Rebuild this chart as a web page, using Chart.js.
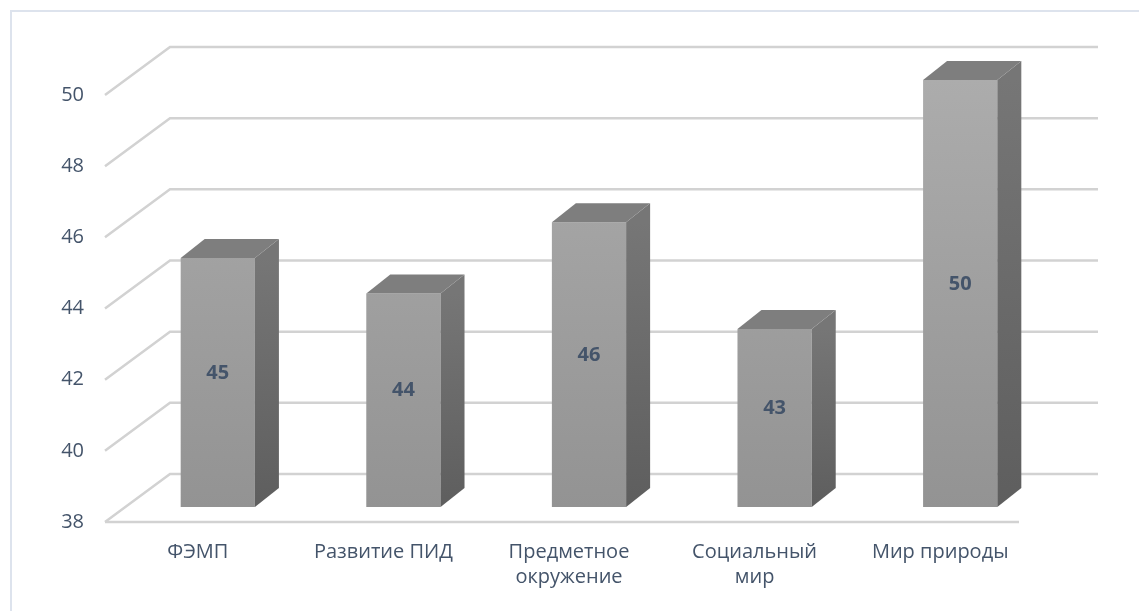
<!DOCTYPE html>
<html>
<head>
<meta charset="utf-8">
<script src="https://cdn.jsdelivr.net/npm/chart.js@4.4.1/dist/chart.umd.min.js"></script>
<style>
  html, body { margin: 0; padding: 0; background: #fff; }
  #wrap { position: relative; width: 1139px; height: 611px; overflow: hidden; }
  #frame { position: absolute; left: 10px; top: 10px; right: -10px; bottom: -10px; border: 2px solid #dde3ed; }
  canvas { position: absolute; left: 0; top: 0; }
</style>
</head>
<body>
<div id="wrap">
  <div id="frame"></div>
  <canvas id="barChart" width="1139" height="611"></canvas>
</div>
<script>
const categories = [['ФЭМП'], ['Развитие ПИД'], ['Предметное', 'окружение'], ['Социальный', 'мир'], ['Мир природы']];
const scores = [45, 44, 46, 43, 50];
const yTicks = [38, 40, 42, 44, 46, 48, 50];

const textColor = '#44546a';
// fake 3d: back wall offset, bar front offset, bar depth
const WALL = { x: 65, y: -48 };
const SHIFT = { x: 20, y: -15 };
const SIDE = { x: 24, y: -19 };

const box3d = {
  id: 'box3d',
  beforeDatasetsDraw(chart) {
    const { ctx, chartArea: a, scales: { y } } = chart;
    ctx.save();
    ctx.strokeStyle = '#d2d2d2';
    ctx.lineWidth = 2.5;
    yTicks.forEach(v => {
      const py = y.getPixelForValue(v);
      ctx.beginPath();
      ctx.moveTo(a.left, py);
      ctx.lineTo(a.left + WALL.x, py + WALL.y);
      ctx.lineTo(a.right + WALL.x, py + WALL.y);
      ctx.stroke();
    });
    ctx.beginPath();
    ctx.moveTo(a.left, a.bottom);
    ctx.lineTo(a.right - 14, a.bottom);
    ctx.stroke();
    ctx.restore();
    // bars are drawn a bit into the box
    ctx.save();
    ctx.translate(SHIFT.x, SHIFT.y);
  },
  afterDatasetsDraw(chart) {
    const { ctx, scales: { y } } = chart;
    ctx.restore();
    const meta = chart.getDatasetMeta(0);
    const basePx = y.getPixelForValue(y.min);
    meta.data.forEach((bar, i) => {
      const p = bar.getProps(['x', 'y', 'width'], true);
      const l = p.x - p.width / 2 + SHIFT.x;
      const r = p.x + p.width / 2 + SHIFT.x;
      const t = p.y + SHIFT.y;
      const b = basePx + SHIFT.y;

      // side
      const g = ctx.createLinearGradient(0, t, 0, b);
      g.addColorStop(0, '#767676');
      g.addColorStop(1, '#5e5e5e');
      ctx.fillStyle = g;
      ctx.beginPath();
      ctx.moveTo(r, t);
      ctx.lineTo(r + SIDE.x, t + SIDE.y);
      ctx.lineTo(r + SIDE.x, b + SIDE.y);
      ctx.lineTo(r, b);
      ctx.closePath();
      ctx.fill();

      // top
      ctx.fillStyle = '#7e7e7e';
      ctx.beginPath();
      ctx.moveTo(l, t);
      ctx.lineTo(l + SIDE.x, t + SIDE.y);
      ctx.lineTo(r + SIDE.x, t + SIDE.y);
      ctx.lineTo(r, t);
      ctx.closePath();
      ctx.fill();

      // value
      ctx.fillStyle = textColor;
      ctx.font = 'bold 20px "Open Sans"';
      ctx.textAlign = 'center';
      ctx.textBaseline = 'middle';
      ctx.fillText(scores[i], p.x + SHIFT.x, (t + b) / 2 + SIDE.y / 2);
    });
  }
};

const barCtx = document.getElementById('barChart').getContext('2d');
new Chart(barCtx, {
  type: 'bar',
  data: {
    labels: categories,
    datasets: [{
      label: 'Баллы',
      data: scores,
      backgroundColor: (c) => {
        const a = c.chart.chartArea;
        if (!a) return '#a0a0a0';
        const g = c.chart.ctx.createLinearGradient(0, a.top, 0, a.bottom);
        g.addColorStop(0, '#acacac');
        g.addColorStop(1, '#939393');
        return g;
      },
      borderWidth: 0,
      barPercentage: 0.4,
      categoryPercentage: 1
    }]
  },
  options: {
    responsive: false,
    animation: false,
    layout: { padding: { top: 95, right: 106, left: 0, bottom: 0 } },
    plugins: {
      legend: { display: false },
      tooltip: { enabled: false }
    },
    scales: {
      x: {
        grid: { display: false, drawTicks: false },
        border: { display: false },
        afterFit: (s) => { s.height = 89; },
        ticks: {
          color: textColor,
          font: { family: 'Open Sans', size: 20, lineHeight: 1.25 },
          padding: 18,
          maxRotation: 0
        }
      },
      y: {
        min: 38,
        max: 50,
        grid: { display: false, drawTicks: false },
        border: { display: false },
        afterFit: (s) => { s.width = 105; },
        ticks: {
          stepSize: 2,
          color: textColor,
          font: { family: 'Open Sans', size: 20 },
          padding: 21
        }
      }
    }
  },
  plugins: [box3d]
});
</script>
</body>
</html>
